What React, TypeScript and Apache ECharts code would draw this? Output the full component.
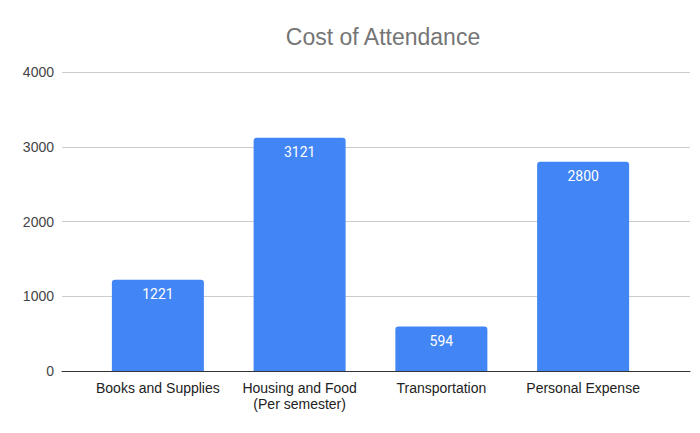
import React, { useEffect, useRef } from "react";
import * as echarts from "echarts";

const categories = [
  "Books and Supplies",
  "Housing and Food\n(Per semester)",
  "Transportation",
  "Personal Expense",
];
const costs = [1221, 3121, 594, 2800];
const yTicks = [0, 1000, 2000, 3000, 4000];

const Y_MAX = yTicks[yTicks.length - 1];
const Y_STEP = yTicks[1] - yTicks[0];
const FONT = "Arial, 'Liberation Sans', sans-serif";

export default function App() {
  const ref = useRef<HTMLDivElement>(null);

  useEffect(() => {
    if (!ref.current) return;
    const chart = echarts.init(ref.current, undefined, { renderer: "svg" });
    chart.setOption({
      animation: false,
      backgroundColor: "#ffffff",
      title: {
        text: "Cost of Attendance",
        left: 378,
        top: 20,
        textAlign: "center",
        textStyle: {
          fontFamily: FONT,
          fontSize: 23,
          fontWeight: "normal",
          color: "#757575",
        },
      },
      grid: [
        // full-width grid carrying the gridlines, y labels and baseline
        { left: 62, right: 10, top: 72, bottom: 62 },
        // inner grid holding the bars
        { left: 87, right: 46, top: 72, bottom: 62 },
      ],
      xAxis: [
        {
          type: "category",
          gridIndex: 0,
          data: [""],
          axisLine: { show: true, lineStyle: { color: "#333333", width: 1 } },
          axisTick: { show: false },
          axisLabel: { show: false },
        },
        {
          type: "category",
          gridIndex: 1,
          data: categories,
          axisLine: { show: false },
          axisTick: { show: false },
          axisLabel: {
            interval: 0,
            margin: 9,
            color: "#222222",
            fontSize: 14,
            lineHeight: 16,
            fontFamily: FONT,
          },
        },
      ],
      yAxis: [
        {
          type: "value",
          gridIndex: 0,
          min: 0,
          max: Y_MAX,
          interval: Y_STEP,
          axisLine: { show: false },
          axisTick: { show: false },
          axisLabel: {
            margin: 8,
            color: "#444444",
            fontSize: 14,
            fontFamily: FONT,
            formatter: (v: number) => String(v),
          },
          splitLine: { lineStyle: { color: "#cccccc", width: 1 } },
        },
        {
          type: "value",
          gridIndex: 1,
          min: 0,
          max: Y_MAX,
          interval: Y_STEP,
          show: false,
          splitLine: { show: false },
        },
      ],
      series: [
        {
          type: "bar",
          xAxisIndex: 1,
          yAxisIndex: 1,
          data: costs,
          barWidth: 92,
          z: 3,
          itemStyle: { color: "#4285f4", borderRadius: [3, 3, 0, 0] },
          label: {
            show: true,
            position: "insideTop",
            distance: 7,
            color: "#ffffff",
            fontSize: 14,
            fontFamily: "Roboto, Arial, sans-serif",
          },
        },
      ],
    });
    return () => chart.dispose();
  }, []);

  return <div ref={ref} style={{ width: 700, height: 433, margin: -8 }} />;
}
